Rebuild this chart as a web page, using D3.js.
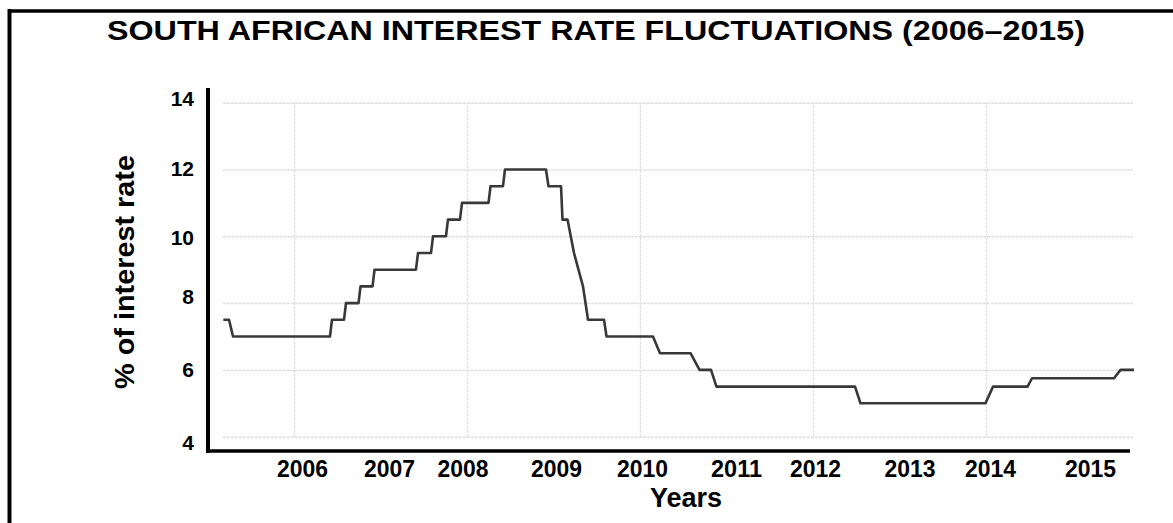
<!DOCTYPE html>
<html>
<head>
<meta charset="utf-8">
<script src="https://cdn.jsdelivr.net/npm/d3@7"></script>
<style>
  html, body { margin: 0; padding: 0; background: #fff; }
  svg { display: block; font-family: "Liberation Sans", Arial, Helvetica, sans-serif; }
</style>
</head>
<body>
<svg id="chart" width="1173" height="523"></svg>
<script>
// ---- data (decimal years, repo rate %) ----
const years = [2005.183, 2005.249, 2005.295, 2006.416, 2006.439, 2006.578, 2006.601, 2006.746, 2006.769,
  2006.908, 2006.931, 2007.410, 2007.434, 2007.584, 2007.607, 2007.757, 2007.780, 2007.919, 2007.942,
  2008.249, 2008.272, 2008.416, 2008.439, 2008.913, 2008.942, 2009.087, 2009.104, 2009.162, 2009.237,
  2009.341, 2009.399, 2009.584, 2009.613, 2010.150, 2010.231, 2010.584, 2010.688, 2010.821, 2010.884,
  2012.486, 2012.549, 2013.994, 2014.081, 2014.480, 2014.532, 2015.480, 2015.555, 2015.711];
const rates = [7.5, 7.5, 7.0, 7.0, 7.5, 7.5, 8.0, 8.0, 8.5,
  8.5, 9.0, 9.0, 9.5, 9.5, 10.0, 10.0, 10.5, 10.5, 11.0,
  11.0, 11.5, 11.5, 12.0, 12.0, 11.5, 11.5, 10.5, 10.5, 9.5,
  8.5, 7.5, 7.5, 7.0, 7.0, 6.5, 6.5, 6.0, 6.0, 5.5,
  5.5, 5.0, 5.0, 5.5, 5.5, 5.75, 5.75, 6.0, 6.0];

const xTickLabels = ["2006", "2007", "2008", "2009", "2010", "2011", "2012", "2013", "2014", "2015"];
const xTickPos    = [2006.092, 2007.098, 2007.948, 2009.029, 2010.023, 2011.110, 2012.023, 2013.116, 2014.046, 2015.202];
const xGridYears  = [2006, 2008, 2010, 2012, 2014];

const yTickLabels = ["4", "6", "8", "10", "12", "14"];
const yTickPos    = [3.81, 6.0, 8.19, 9.96, 12.03, 14.11];
const yGridValues = [4, 6, 8, 10, 12, 14];

const titleText = "SOUTH AFRICAN INTEREST RATE FLUCTUATIONS (2006–2015)";
const xTitle = "Years";
const yTitle = "% of interest rate";

// ---- layout ----
const svg = d3.select("#chart");
const x = d3.scaleLinear().domain([2005, 2016]).range([207.5, 1159]);
const y = d3.scaleLinear().domain([4, 14]).range([436.7, 102.7]);
const gridLeft = 223, gridRight = 1133;
const axisLeftX = 208, axisBottomY = 451, axisRight = 1130, axisTop = 88;

// frame lines (top and left)
svg.append("line").attr("x1", 9).attr("x2", 1173).attr("y1", 11).attr("y2", 11)
  .attr("stroke", "#000").attr("stroke-width", 3.5);
svg.append("line").attr("x1", 9.5).attr("x2", 9.5).attr("y1", 9).attr("y2", 523)
  .attr("stroke", "#000").attr("stroke-width", 4);

// title
svg.append("text").attr("x", 596).attr("y", 40).attr("text-anchor", "middle")
  .attr("font-size", 27).attr("font-weight", "bold").attr("fill", "#000")
  .attr("textLength", 978).attr("lengthAdjust", "spacingAndGlyphs").text(titleText);

// horizontal gridlines
const gy = svg.append("g").attr("transform", `translate(${gridLeft},0)`)
  .call(d3.axisLeft(y).tickValues(yGridValues).tickSize(-(gridRight - gridLeft)).tickFormat(""));
gy.select(".domain").remove();
gy.selectAll(".tick line").attr("stroke", "#dedede").attr("stroke-width", 1.5).attr("stroke-dasharray", "3,1");

// vertical gridlines
const gx = svg.append("g").attr("transform", `translate(0,${y(4)})`)
  .call(d3.axisBottom(x).tickValues(xGridYears).tickSize(-(y(4) - y(14))).tickFormat(""));
gx.select(".domain").remove();
gx.selectAll(".tick line").attr("stroke", "#e2e2e2").attr("stroke-width", 1.5).attr("stroke-dasharray", "3,1");

// data line
const pts = years.map((d, i) => [d, rates[i]]);
svg.append("path").datum(pts)
  .attr("d", d3.line().x(d => x(d[0])).y(d => y(d[1])))
  .attr("fill", "none").attr("stroke", "#383838").attr("stroke-width", 2.6)
  .attr("stroke-linejoin", "round");

// axis lines
svg.append("line").attr("x1", axisLeftX).attr("x2", axisLeftX).attr("y1", axisTop).attr("y2", axisBottomY + 2)
  .attr("stroke", "#000").attr("stroke-width", 4);
svg.append("line").attr("x1", axisLeftX - 2).attr("x2", axisRight).attr("y1", axisBottomY).attr("y2", axisBottomY)
  .attr("stroke", "#000").attr("stroke-width", 3.5);

// x tick labels
const xa = svg.append("g").attr("transform", `translate(0,${axisBottomY})`)
  .call(d3.axisBottom(x).tickValues(xTickPos).tickSize(0).tickFormat((d, i) => xTickLabels[i]));
xa.select(".domain").remove();
xa.selectAll("text").attr("font-size", 23).attr("font-weight", "bold").attr("fill", "#000")
  .attr("font-family", "Liberation Sans, Arial, sans-serif").attr("dy", null).attr("y", 26)
  .attr("textLength", 51).attr("lengthAdjust", "spacingAndGlyphs");

// y tick labels
const ya = svg.append("g").attr("transform", `translate(194,0)`)
  .call(d3.axisLeft(y).tickValues(yTickPos).tickSize(0).tickFormat((d, i) => yTickLabels[i]));
ya.select(".domain").remove();
ya.selectAll("text").attr("font-size", 21).attr("font-weight", "bold").attr("fill", "#000")
  .attr("font-family", "Liberation Sans, Arial, sans-serif").attr("x", 0);

// axis titles
svg.append("text").attr("x", 686).attr("y", 507).attr("text-anchor", "middle")
  .attr("font-size", 27).attr("font-weight", "bold").attr("fill", "#000").text(xTitle);
svg.append("text").attr("transform", "translate(134,272) rotate(-90)").attr("text-anchor", "middle")
  .attr("font-size", 27).attr("font-weight", "bold").attr("fill", "#000")
  .attr("textLength", 234).attr("lengthAdjust", "spacingAndGlyphs").text(yTitle);
</script>
</body>
</html>
